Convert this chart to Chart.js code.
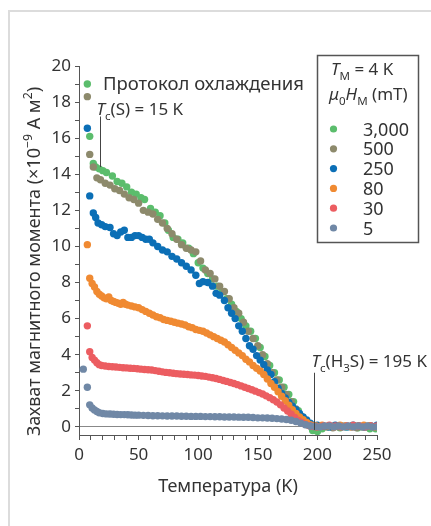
<!DOCTYPE html>
<html lang="ru">
<head>
    <meta charset="UTF-8">
    <title>Захват магнитного момента</title>
    <script src="https://cdn.jsdelivr.net/npm/chart.js"></script>
    <style>
        body { margin: 0; background: #fff; }
        #frame { position: absolute; left: 8px; top: 10px; width: 460px; height: 560px; border: 2px solid #dcdcdc; }
        #chart { position: absolute; left: 0; top: 0; }
    </style>
</head>
<body>
    <div id="frame"></div>
    <canvas id="chart" width="431" height="526"></canvas>

    <script>
        // Legend entries (field mu0*H_M in mT) and colours
        const fieldLabels = ['3,000', '500', '250', '80', '30', '5'];
        const seriesColors = ['#5bbd6c', '#8d8a6c', '#0b6fb6', '#f08a32', '#ec5d61', '#7088a6'];
        // y tick marks every 1, labelled every 2
        const yTickValues = [0, 1, 2, 3, 4, 5, 6, 7, 8, 9, 10, 11, 12, 13, 14, 15, 16, 17, 18, 19, 20];

        // [temperature K, trapped moment x1e-9 A m^2]
        const s3000 = [[7,19.0],[9,16.1],[12,14.6],[14,14.4],[17,14.3],[20,14.2],[23,14.1],[28,13.9],[32,13.6],[36,13.5],
            [40,13.3],[44,13.0],[48,12.9],[52,12.7],[55,12.6],[60,12.1],[64,11.9],[68,11.7],[72,11.3],[75,10.9],
            [79,10.5],[83,10.4],[87,10.2],[92,9.9],[96,9.6],[100,9.1],[104,8.8],[108,8.5],[112,8.2],[116,7.8],
            [120,7.5],[124,7.1],[128,6.8],[132,6.4],[136,6.0],[140,5.6],[144,5.3],[148,4.9],[152,4.4],[156,3.9],
            [160,3.4],[164,3.0],[168,2.6],[172,2.2],[176,1.8],[180,1.4],[184,0.9],[188,0.5],[192,0.1],[196,-0.2],
            [200,-0.25],[204,-0.1],[209,0.0],[214,0.05],[219,-0.05],[224,0.0],[229,0.05],[234,-0.05],[239,0.0],[244,-0.1],[249,-0.1]];
        const s500 = [[7,18.3],[9,15.1],[12,14.4],[15,13.8],[18,13.7],[22,13.5],[26,13.4],[30,13.2],[34,13.1],[38,12.9],
            [42,12.7],[46,12.6],[50,12.4],[54,12.0],[58,11.9],[62,11.8],[66,11.5],[70,11.3],[74,11.0],[78,10.7],
            [82,10.4],[86,10.1],[90,9.9],[94,9.8],[98,9.7],[102,9.2],[106,8.7],[110,8.5],[114,8.2],[118,7.8],
            [122,7.5],[126,7.1],[130,6.6],[134,6.3],[138,5.8],[142,5.3],[146,4.9],[150,4.5],[154,4.0],[158,3.5],
            [162,3.0],[166,2.6],[170,2.2],[174,1.8],[178,1.4],[182,1.0],[186,0.6],[190,0.3],[194,0.05],[198,0.0],
            [203,0.05],[208,0.0],[213,-0.05],[218,0.0],[223,0.05],[228,0.0],[233,-0.05],[238,0.0],[243,0.05],[248,0.0]];
        const s250 = [[7,16.55],[9,12.8],[12,11.85],[14,11.6],[16,11.3],[19,11.2],[22,11.1],[26,11.05],[29,10.7],[32,10.6],
            [35,10.8],[38,10.9],[41,10.5],[44,10.5],[47,10.6],[50,10.6],[53,10.5],[56,10.4],[59,10.4],[62,10.2],
            [66,10.0],[70,9.8],[74,9.7],[78,9.45],[82,9.3],[86,9.1],[90,8.9],[94,8.7],[98,8.4],[101,7.95],
            [104,8.05],[108,8.0],[112,7.8],[115,7.4],[118,7.3],[122,7.0],[125,6.6],[128,6.3],[131,6.0],[134,5.6],
            [137,5.3],[140,4.9],[143,4.5],[146,4.3],[149,3.95],[152,3.7],[155,3.45],[158,3.15],[161,2.9],[164,2.5],
            [167,2.15],[170,1.85],[173,1.6],[176,1.35],[179,1.15],[182,0.95],[185,0.75],[188,0.55],[191,0.38],[194,0.2],
            [197,0.08],[200,0.1],[205,0.05],[210,0.0],[215,0.1],[220,0.05],[225,0.0],[230,0.1],[235,0.05],[240,0.0],[245,0.05],[250,0.1]];
        const s80 = [[7,10.1],[9,8.24],[11,7.95],[13,7.75],[15,7.5],[17,7.35],[19,7.25],[21,7.15],[23,7.1],[25,7.2],
            [27,7.0],[29,6.95],[31,6.9],[33,6.85],[35,6.8],[37,6.9],[39,6.8],[41,6.75],[44,6.7],[47,6.65],
            [50,6.6],[53,6.5],[56,6.4],[59,6.3],[62,6.2],[65,6.1],[68,6.05],[71,5.95],[74,5.9],[77,5.85],
            [80,5.8],[83,5.75],[86,5.7],[89,5.65],[92,5.55],[95,5.5],[98,5.4],[101,5.35],[104,5.3],[107,5.2],
            [110,5.1],[113,5.0],[116,4.9],[119,4.8],[122,4.7],[125,4.55],[128,4.4],[131,4.25],[134,4.1],[137,3.95],
            [140,3.75],[143,3.6],[146,3.4],[149,3.25],[152,3.1],[155,2.9],[158,2.65],[161,2.4],[164,2.2],[167,1.95],
            [170,1.7],[173,1.45],[176,1.2],[179,0.95],[182,0.75],[185,0.55],[188,0.4],[191,0.25],[194,0.12],[197,0.05],
            [199,0.05],[204,0.1],[209,0.05],[214,0.0],[219,0.1],[224,0.05],[229,0.0],[234,0.05],[239,0.1],[244,0.05],[249,0.0]];
        const s30 = [[7,5.6],[9,4.17],[11,3.85],[13,3.7],[15,3.55],[17,3.45],[19,3.4],[22,3.37],[25,3.35],[28,3.33],
            [31,3.32],[34,3.3],[37,3.28],[40,3.27],[43,3.25],[46,3.24],[49,3.22],[52,3.2],[55,3.18],[58,3.17],
            [61,3.15],[64,3.12],[67,3.08],[70,3.05],[73,3.02],[76,3.0],[79,2.97],[82,2.95],[85,2.93],[88,2.92],
            [91,2.9],[94,2.88],[97,2.87],[100,2.85],[103,2.82],[106,2.8],[109,2.76],[112,2.72],[115,2.68],[118,2.63],
            [121,2.57],[124,2.52],[127,2.46],[130,2.4],[133,2.34],[136,2.27],[139,2.2],[142,2.13],[145,2.06],[148,1.98],
            [151,1.9],[154,1.82],[157,1.72],[160,1.62],[163,1.5],[166,1.38],[169,1.22],[172,1.05],[175,0.88],[178,0.7],
            [181,0.52],[184,0.36],[187,0.24],[190,0.14],[193,0.07],[196,0.03],[200,0.0],[205,0.05],[210,0.1],[215,0.05],
            [220,0.0],[225,0.05],[230,0.1],[235,0.05],[240,0.0],[245,0.05],[250,0.05]];
        const s5 = [[3.6,3.2],[7,2.2],[9,1.22],[11,1.05],[13,0.94],[15,0.85],[17,0.78],[20,0.74],[23,0.72],[26,0.71],
            [29,0.7],[32,0.69],[35,0.68],[38,0.68],[41,0.67],[44,0.66],[47,0.65],[50,0.65],[54,0.64],[58,0.63],
            [62,0.62],[66,0.62],[70,0.61],[74,0.6],[78,0.6],[82,0.6],[86,0.59],[90,0.59],[94,0.58],[98,0.58],
            [102,0.58],[106,0.57],[110,0.57],[114,0.56],[118,0.56],[122,0.55],[126,0.55],[130,0.55],[134,0.54],[138,0.53],
            [142,0.53],[146,0.52],[150,0.5],[154,0.5],[158,0.49],[162,0.48],[166,0.46],[170,0.44],[174,0.41],[178,0.37],
            [182,0.3],[186,0.21],[190,0.12],[194,0.05],[198,0.02],[202,0.0],[206,0.05],[210,0.05],[214,0.0],[218,0.05],
            [222,0.0],[226,0.05],[230,0.0],[234,0.05],[238,0.0],[242,0.05],[246,0.0],[250,0.0]];

        const allSeries = [s3000, s500, s250, s80, s30, s5];

        const FONT = '"Noto Sans", "Open Sans", sans-serif';
        const TEXT = '#333';

        // draw text pieces with italic / sub / sup parts
        function drawRich(ctx, x, y, parts, size, align) {
            const fontOf = p => (p.i ? 'italic ' : '') + ((p.sub || p.sup) ? size * 0.68 : size) + 'px ' + FONT;
            let total = 0;
            parts.forEach(p => { ctx.font = fontOf(p); total += ctx.measureText(p.t).width; });
            let cx = align === 'center' ? x - total / 2 : x;
            ctx.textAlign = 'left';
            ctx.textBaseline = 'alphabetic';
            parts.forEach(p => {
                ctx.font = fontOf(p);
                const dy = p.sub ? size * 0.28 : (p.sup ? -size * 0.42 : 0);
                ctx.fillText(p.t, cx, y + dy);
                cx += ctx.measureText(p.t).width;
            });
        }

        const extras = {
            id: 'extras',
            afterDraw(chart) {
                const ctx = chart.ctx;
                const xs = chart.scales.x, ys = chart.scales.y;
                ctx.save();
                ctx.fillStyle = TEXT;

                // y axis title
                ctx.save();
                ctx.translate(40, 261.5);
                ctx.rotate(-Math.PI / 2);
                drawRich(ctx, 0, 0, [{t: 'Захват магнитного момента (×10'}, {t: '−9', sup: true}, {t: ' A м'}, {t: '2', sup: true}, {t: ')'}], 18, 'center');
                ctx.restore();

                // annotations
                drawRich(ctx, 103, 90, [{t: 'Протокол охлаждения'}], 18.5);
                drawRich(ctx, 96.5, 115, [{t: 'T', i: true}, {t: 'c', sub: true}, {t: '(S) = 15 K'}], 17);
                drawRich(ctx, 311.5, 367, [{t: 'T', i: true}, {t: 'c', sub: true}, {t: '(H'}, {t: '3', sub: true}, {t: 'S) = 195 K'}], 17);

                ctx.strokeStyle = '#444';
                ctx.lineWidth = 1;
                let px = Math.round(xs.getPixelForValue(17.5)) + 0.5;
                ctx.beginPath();
                ctx.moveTo(px, ys.getPixelForValue(17.2));
                ctx.lineTo(px, ys.getPixelForValue(14.4));
                ctx.stroke();
                px = Math.round(xs.getPixelForValue(197.4)) + 0.5;
                ctx.beginPath();
                ctx.moveTo(px, ys.getPixelForValue(3.0));
                ctx.lineTo(px, ys.getPixelForValue(-0.17));
                ctx.stroke();

                // legend box
                ctx.strokeStyle = '#555';
                ctx.lineWidth = 1.5;
                ctx.fillStyle = '#fff';
                ctx.fillRect(317, 55, 101, 187);
                ctx.strokeRect(317.5, 55.5, 101, 187);
                ctx.fillStyle = TEXT;
                drawRich(ctx, 331, 75, [{t: 'T', i: true}, {t: 'M', sub: true}, {t: ' = 4 K'}], 17);
                drawRich(ctx, 329, 100, [{t: 'μ', i: true}, {t: '0', sub: true}, {t: 'H', i: true}, {t: 'M', sub: true}, {t: ' (mT)'}], 17);
                fieldLabels.forEach((lab, i) => {
                    const cy = 129 + i * 19.8;
                    ctx.fillStyle = seriesColors[i];
                    ctx.beginPath();
                    ctx.arc(333.5, cy, 3.6, 0, Math.PI * 2);
                    ctx.fill();
                    ctx.fillStyle = TEXT;
                    drawRich(ctx, 363, cy + 6.5, [{t: lab}], 18);
                });
                ctx.restore();
            }
        };

        // lowest field drawn on top: Chart.js paints dataset 0 last
        const datasets = allSeries.map((s, i) => ({
            label: fieldLabels[i],
            data: s.map(p => ({x: p[0], y: p[1]})),
            backgroundColor: seriesColors[i],
            borderWidth: 0,
            pointRadius: 3.7,
            pointBorderWidth: 0,
            order: allSeries.length - i
        }));

        new Chart(document.getElementById('chart').getContext('2d'), {
            type: 'scatter',
            data: { datasets },
            options: {
                responsive: false,
                animation: false,
                layout: { padding: { top: 66, right: 54, bottom: 0, left: 0 } },
                plugins: { legend: { display: false }, tooltip: { enabled: false } },
                scales: {
                    x: {
                        type: 'linear', min: 0, max: 250,
                        afterFit: s => { s.height = 91; },
                        border: { color: '#555', width: 1 },
                        grid: { drawOnChartArea: false, tickLength: 5, tickColor: '#555' },
                        ticks: {
                            stepSize: 10, autoSkip: false, maxRotation: 0, padding: 5,
                            color: TEXT, font: { family: FONT, size: 17 },
                            callback: v => v % 50 === 0 ? String(v) : ''
                        },
                        title: {
                            display: true, text: 'Температура (K)', color: TEXT,
                            font: { family: FONT, size: 18 }, padding: { top: 0, bottom: 28 }
                        }
                    },
                    y: {
                        min: -0.45, max: 20,
                        afterFit: s => { s.width = 79; },
                        afterBuildTicks: s => { s.ticks = yTickValues.map(v => ({ value: v })); },
                        border: { color: '#555', width: 1 },
                        grid: {
                            tickLength: 4, tickColor: '#555',
                            color: c => (c.tick && c.tick.value === 0) ? '#888' : 'rgba(0,0,0,0)'
                        },
                        ticks: {
                            padding: 4, autoSkip: false, color: TEXT, font: { family: FONT, size: 17 },
                            callback: v => v % 2 === 0 ? String(v) : ''
                        }
                    }
                }
            },
            plugins: [extras]
        });
    </script>
</body>
</html>
